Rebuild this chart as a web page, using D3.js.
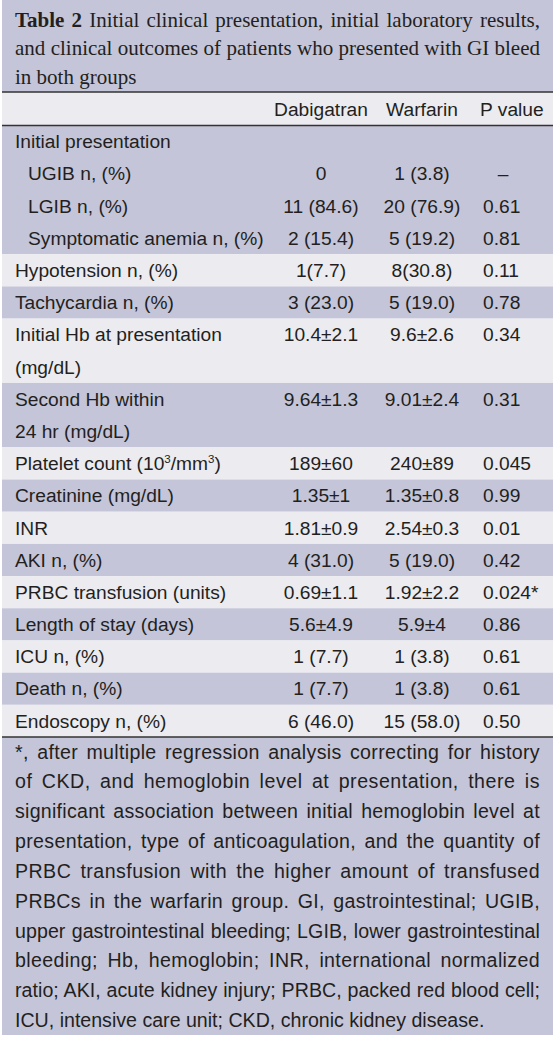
<!DOCTYPE html>
<html><head><meta charset="utf-8">
<script src="https://cdn.jsdelivr.net/npm/d3@7"></script>
<style>html,body{margin:0;padding:0;background:#fff}svg{display:block}</style>
</head><body>
<script>
// ---- data ----
const titleLines = [
  ["Table 2", " Initial clinical presentation, initial laboratory results,"],
  ["", "and clinical outcomes of patients who presented with GI bleed"],
  ["", "in both groups"]
];
const columns = ["Dabigatran", "Warfarin", "P value"];
const rowLabels = [
  ["Initial presentation"],
  ["UGIB n, (%)"],
  ["LGIB n, (%)"],
  ["Symptomatic anemia n, (%)"],
  ["Hypotension n, (%)"],
  ["Tachycardia n, (%)"],
  ["Initial Hb at presentation", "(mg/dL)"],
  ["Second Hb within", "24 hr (mg/dL)"],
  ["Platelet count (10^3/mm^3)"],
  ["Creatinine (mg/dL)"],
  ["INR"],
  ["AKI n, (%)"],
  ["PRBC transfusion (units)"],
  ["Length of stay (days)"],
  ["ICU n, (%)"],
  ["Death n, (%)"],
  ["Endoscopy n, (%)"]
];
const indented = [0,1,1,1,0,0,0,0,0,0,0,0,0,0,0,0,0];
const shadeGroup = [0,0,0,0,1,2,3,4,5,6,7,8,9,10,11,12,13];
const dabigatran = ["","0","11 (84.6)","2 (15.4)","1(7.7)","3 (23.0)","10.4±2.1","9.64±1.3","189±60","1.35±1","1.81±0.9","4 (31.0)","0.69±1.1","5.6±4.9","1 (7.7)","1 (7.7)","6 (46.0)"];
const warfarin = ["","1 (3.8)","20 (76.9)","5 (19.2)","8(30.8)","5 (19.0)","9.6±2.6","9.01±2.4","240±89","1.35±0.8","2.54±0.3","5 (19.0)","1.92±2.2","5.9±4","1 (3.8)","1 (3.8)","15 (58.0)"];
const pValues = ["","–","0.61","0.81","0.11","0.78","0.34","0.31","0.045","0.99","0.01","0.42","0.024*","0.86","0.61","0.61","0.50"];
const footnoteLines = [
  "*, after multiple regression analysis correcting for history",
  "of CKD, and hemoglobin level at presentation, there is",
  "significant association between initial hemoglobin level at",
  "presentation, type of anticoagulation, and the quantity of",
  "PRBC transfusion with the higher amount of transfused",
  "PRBCs in the warfarin group. GI, gastrointestinal; UGIB,",
  "upper gastrointestinal bleeding; LGIB, lower gastrointestinal",
  "bleeding; Hb, hemoglobin; INR, international normalized",
  "ratio; AKI, acute kidney injury; PRBC, packed red blood cell;",
  "ICU, intensive care unit; CKD, chronic kidney disease."
];

// ---- style ----
const W = 555, H = 1038;
const LAV = "#c4c5d9", LIGHT = "#ebebf0", INK = "#231f20", RULE = "#333";
const SANS = "'Liberation Sans', Arial, Helvetica, sans-serif";
const SERIF = "'Liberation Serif', 'Times New Roman', serif";
const FS = 19.2, FSN = 19.6;
const x0 = 2, x1 = 553, textL = 15, textR = 540;

const svg = d3.select("body").append("svg").attr("width", W).attr("height", H);

function justify(sel, target, letterShare) {
  sel.each(function() {
    const node = this;
    const txt = node.textContent;
    const spaces = (txt.match(/ /g) || []).length;
    const w = node.getComputedTextLength();
    if (spaces > 0 && w < target) {
      const extra = target - w;
      const ls = extra * letterShare / (txt.length - 1);
      const d = d3.select(node).attr("letter-spacing", ls);
      const w2 = node.getComputedTextLength();
      d.attr("word-spacing", Math.max(0, (target - w2) / spaces));
    }
  });
}

// ---- title ----
svg.append("rect").attr("x", x0).attr("y", 0).attr("width", x1 - x0).attr("height", 92).attr("fill", LAV);
const titleY = d3.scaleLinear().domain([0, 2]).range([27, 83.5]);
const tl = svg.selectAll("text.title").data(titleLines).join("text")
  .attr("class", "title").attr("x", textL).attr("y", (d, i) => titleY(i))
  .attr("font-family", SERIF).attr("font-size", 21).attr("fill", INK);
tl.each(function(d) {
  const t = d3.select(this);
  if (d[0]) t.append("tspan").attr("font-weight", "bold").text(d[0]);
  t.append("tspan").text(d[1]);
});
justify(tl.filter((d, i) => i < 2), textR - textL, 0);

// ---- header ----
svg.append("rect").attr("x", x0).attr("y", 92).attr("width", x1 - x0).attr("height", 33.5).attr("fill", LIGHT);
const colX = d3.scaleOrdinal().domain(columns).range([321, 422, 483]);
svg.selectAll("text.hdr").data(columns).join("text").attr("class", "hdr")
  .attr("x", d => d === "P value" ? 480 : colX(d)).attr("y", 115.5)
  .attr("text-anchor", d => d === "P value" ? "start" : "middle")
  .attr("font-family", SANS).attr("font-size", FS).attr("fill", INK).text(d => d);

// ---- body ----
const nLines = d3.sum(rowLabels, d => d.length);
const yLine = d3.scaleLinear().domain([0, nLines]).range([125.5, 737]);
let acc = 0;
const rows = rowLabels.map((lab, i) => {
  const r = { i, lab, start: acc, n: lab.length, d: dabigatran[i], w: warfarin[i], p: pValues[i], ind: indented[i], g: shadeGroup[i] };
  acc += lab.length; return r;
});
const groups = d3.groups(rows, r => r.g);
svg.selectAll("rect.band").data(groups).join("rect").attr("class", "band")
  .attr("x", x0).attr("width", x1 - x0)
  .attr("y", ([g, rs]) => yLine(rs[0].start))
  .attr("height", ([g, rs]) => yLine(rs[rs.length - 1].start + rs[rs.length - 1].n) - yLine(rs[0].start))
  .attr("fill", ([g]) => g % 2 === 0 ? LAV : LIGHT);

const base = 22.8;
const lineStep = yLine(1) - yLine(0);
rows.forEach(r => {
  r.lab.forEach((line, k) => {
    const t = svg.append("text").attr("x", r.ind ? 28 : textL).attr("y", yLine(r.start) + base + k * lineStep)
      .attr("font-family", SANS).attr("font-size", FS).attr("fill", INK);
    const parts = line.split(/(\^\d)/);
    let prevSup = false;
    parts.forEach(p => {
      if (p.startsWith("^")) { t.append("tspan").attr("font-size", FS * 0.6).attr("dy", -7).text(p.slice(1)); prevSup = true; }
      else if (p) { t.append("tspan").attr("dy", prevSup ? 7 : null).text(p); prevSup = false; }
    });
  });
  const y = yLine(r.start) + base;
  svg.append("text").attr("x", colX("Dabigatran")).attr("y", y).attr("text-anchor", "middle")
    .attr("font-family", SANS).attr("font-size", FS).attr("fill", INK).text(r.d);
  svg.append("text").attr("x", colX("Warfarin")).attr("y", y).attr("text-anchor", "middle")
    .attr("font-family", SANS).attr("font-size", FS).attr("fill", INK).text(r.w);
  svg.append("text").attr("x", r.p === "–" ? 503 : colX("P value")).attr("y", y)
    .attr("text-anchor", r.p === "–" ? "middle" : "start")
    .attr("font-family", SANS).attr("font-size", FS).attr("fill", INK).text(r.p);
});

// ---- footnote ----
svg.append("rect").attr("x", x0).attr("y", 737).attr("width", x1 - x0).attr("height", 298).attr("fill", LAV);
const fY = d3.scaleLinear().domain([0, footnoteLines.length - 1]).range([758.5, 1027]);
const fl = svg.selectAll("text.fn").data(footnoteLines).join("text").attr("class", "fn")
  .attr("x", textL).attr("y", (d, i) => fY(i))
  .attr("font-family", SANS).attr("font-size", FSN).attr("fill", INK).text(d => d);
justify(fl.filter((d, i) => i < footnoteLines.length - 1), textR - textL, 0.5);

// ---- rules ----
[92, 125.5, 737].forEach(y => svg.append("line").attr("x1", x0).attr("x2", x1).attr("y1", y).attr("y2", y)
  .attr("stroke", RULE).attr("stroke-width", 1.4));
</script>
</body></html>
